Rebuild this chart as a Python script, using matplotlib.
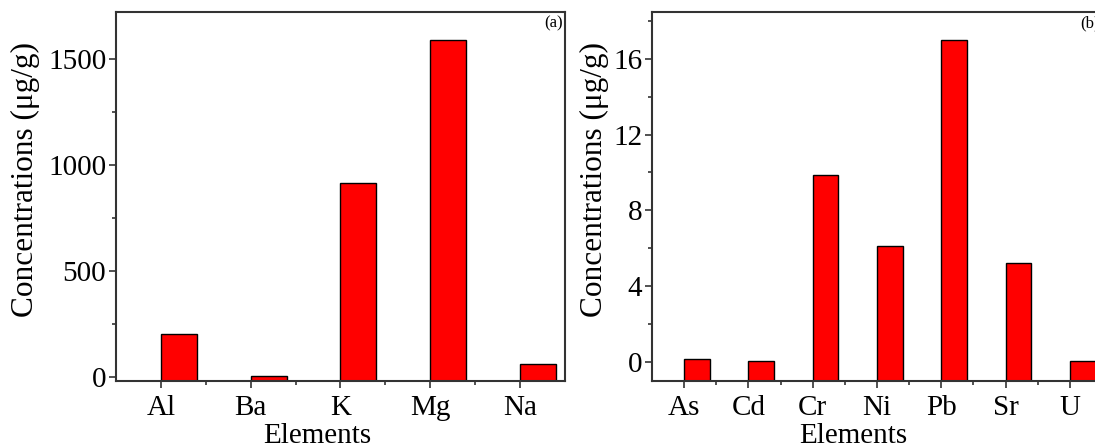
import matplotlib
matplotlib.use("Agg")
import matplotlib.pyplot as plt
from matplotlib.ticker import MultipleLocator

plt.rcParams["font.family"] = ["Liberation Serif", "DejaVu Serif"]

elements_a = ["Al", "Ba", "K", "Mg", "Na"]
conc_a = [203, 3, 913, 1590, 63]

elements_b = ["As", "Cd", "Cr", "Ni", "Pb", "Sr", "U"]
conc_b = [0.17, 0.04, 9.85, 6.1, 17.0, 5.2, 0.03]

fig = plt.figure(figsize=(10.95, 4.45), dpi=100)
ax1 = fig.add_axes([0.1059, 0.1438, 0.4100, 0.8292])
ax2 = fig.add_axes([0.5954, 0.1438, 0.4110, 0.8292])


def style_panel(ax, names, vals, ylim, major, minor, tag, ylabpad):
    ymin = ylim[0]
    x = list(range(len(names)))
    ax.bar(x, [v - ymin for v in vals], bottom=ymin, width=0.4, align="edge",
           color="#ff0000", edgecolor="black", linewidth=1.0)
    ax.set_xlim(-0.5, len(names) - 0.5)
    ax.set_ylim(*ylim)
    ax.set_xticks(x)
    ax.set_xticklabels(names)
    ax.set_xticks([i + 0.5 for i in x[:-1]], minor=True)
    ax.yaxis.set_major_locator(MultipleLocator(major))
    ax.yaxis.set_minor_locator(MultipleLocator(minor))
    ax.tick_params(axis="both", which="major", direction="out", length=5,
                   width=1.2, labelsize=21, color="#333333", pad=2)
    ax.tick_params(axis="x", which="major", pad=5)
    ax.tick_params(axis="both", which="minor", direction="out", length=3,
                   width=1.2, color="#333333")
    ax.tick_params(top=False, right=False, which="both")
    for s in ax.spines.values():
        s.set_linewidth(1.5)
        s.set_color("#333333")
    ax.set_xlabel("Elements", fontsize=21)
    ax.xaxis.set_label_coords(0.448, -0.115)
    ax.set_ylabel("Concentrations (μg/g)", fontsize=22.5, labelpad=ylabpad)
    ax.yaxis.label.set_y(0.545)
    ax.text(0.995, 0.99, tag, transform=ax.transAxes, ha="right", va="top",
            fontsize=12)


style_panel(ax1, elements_a, conc_a, (-19, 1722), 500, 250, "(a)", 6)
style_panel(ax2, elements_b, conc_b, (-1, 18.46), 4, 2, "(b)", 3)

fig.savefig("out.png", dpi=100)
